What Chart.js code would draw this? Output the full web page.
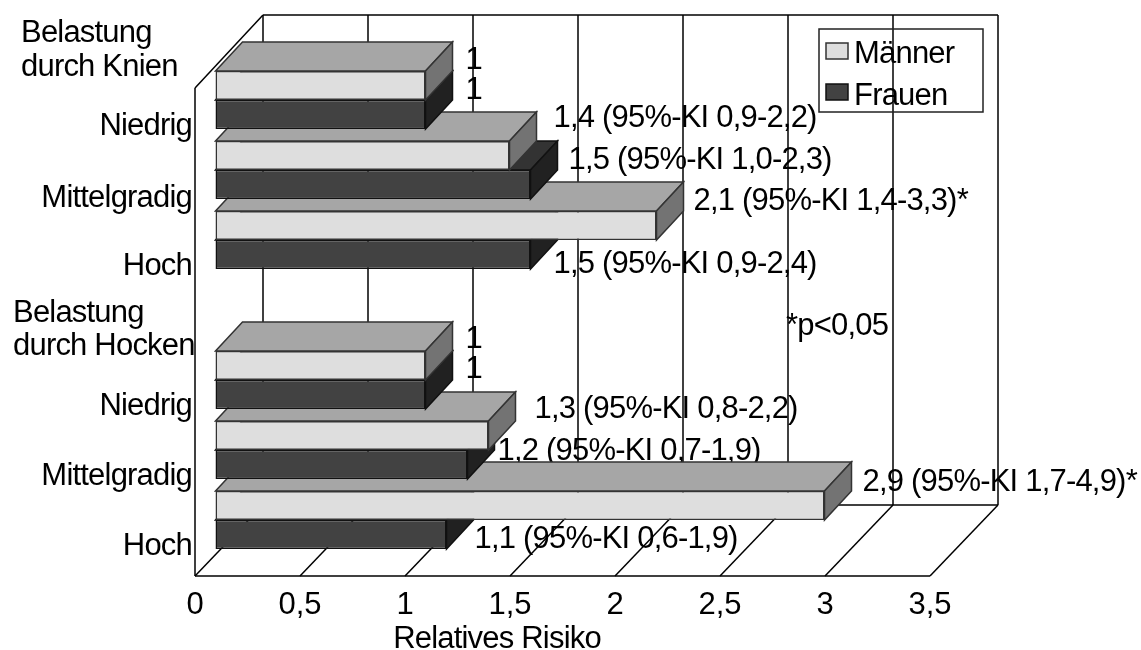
<!DOCTYPE html>
<html>
<head>
<meta charset="utf-8">
<script src="https://cdn.jsdelivr.net/npm/chart.js@4"></script>
<style>
  html, body { margin: 0; background: #fff; }
  canvas { display: block; }
</style>
</head>
<body>
<canvas id="risiko" width="1141" height="650"></canvas>
<script>
const categories = [['Belastung', 'durch Knien'], 'Niedrig', 'Mittelgradig', 'Hoch', ['Belastung', 'durch Hocken'], 'Niedrig', 'Mittelgradig', 'Hoch'];
const maennerValues = [null, 1, 1.4, 2.1, null, 1, 1.3, 2.9];
const frauenValues = [null, 1, 1.5, 1.5, null, 1, 1.2, 1.1];
const maennerLabels = [null, '1', '1,4 (95%-KI 0,9-2,2)', '2,1 (95%-KI 1,4-3,3)*', null, '1', '1,3 (95%-KI 0,8-2,2)', '2,9 (95%-KI 1,7-4,9)*'];
const frauenLabels = [null, '1', '1,5 (95%-KI 1,0-2,3)', '1,5 (95%-KI 0,9-2,4)', null, '1', '1,2 (95%-KI 0,7-1,9)', '1,1 (95%-KI 0,6-1,9)'];
const xTickLabels = ['0', '0,5', '1', '1,5', '2', '2,5', '3', '3,5'];

// label nudges in px, from the end of the bar
const maennerNudge = [null, [40, -16], [44, -28], [37, -15], null, [40, -17], [46, -17], [38, -14]];
const frauenNudge = [null, [40, -16], [38, -16], [23, 18], null, [40, -17], [30, -5], [28, 13]];
const yLabelShift = [0, 14, 16, 14, 0, 14, 14, 14];

const FONT = '31px "Liberation Sans"';
const BAR_DX = 27, BAR_DY = 29;     // bar depth
const WALL_DX = 68, WALL_DY = 71;   // box depth
const PLANE_DX = 20.5, PLANE_DY = -21; // bars sit a bit behind the front edge

const faces = [
  { top: '#a6a6a6', side: '#737373' },
  { top: '#333333', side: '#212121' }
];

function poly(ctx, pts, fill, stroke) {
  ctx.beginPath();
  pts.forEach((p, i) => i ? ctx.lineTo(p[0], p[1]) : ctx.moveTo(p[0], p[1]));
  ctx.closePath();
  if (fill) { ctx.fillStyle = fill; ctx.fill(); }
  ctx.strokeStyle = stroke;
  ctx.lineWidth = 1.5;
  ctx.stroke();
}

function line(ctx, x1, y1, x2, y2) {
  ctx.beginPath();
  ctx.moveTo(x1, y1);
  ctx.lineTo(x2, y2);
  ctx.stroke();
}

function text(ctx, str, x, y, align) {
  ctx.font = FONT;
  ctx.letterSpacing = '-0.8px'; // reference type is tall and tight
  ctx.fillStyle = '#000';
  ctx.textAlign = align || 'left';
  ctx.textBaseline = 'alphabetic';
  ctx.fillText(str, x, y);
  ctx.letterSpacing = '0px';
}

const box3d = {
  id: 'box3d',
  beforeDatasetsDraw(chart) {
    const ctx = chart.ctx, a = chart.chartArea, xs = chart.scales.x;
    ctx.save();

    // walls and floor
    ctx.strokeStyle = '#000';
    ctx.lineWidth = 1.5;
    const backBottom = a.bottom - WALL_DY, backTop = a.top - 1;
    line(ctx, a.left, a.top + 72, a.left, a.bottom);
    line(ctx, a.left, a.bottom, a.right, a.bottom);
    line(ctx, a.left, a.top + 72, a.left + WALL_DX, backTop);
    line(ctx, a.left + WALL_DX, backTop, a.right + WALL_DX, backTop);
    line(ctx, a.left + WALL_DX, backBottom, a.right + WALL_DX, backBottom);
    xs.ticks.forEach((t, i) => {
      const px = xs.getPixelForTick(i);
      line(ctx, px, a.bottom, px + WALL_DX, backBottom);
      line(ctx, px + WALL_DX, backBottom, px + WALL_DX, backTop);
    });

    // value labels go under the bars, the 1,2 one gets cut off by the bar below
    [[maennerValues, maennerLabels, maennerNudge, 0], [frauenValues, frauenLabels, frauenNudge, 1]].forEach(([vals, labs, nudge, ds]) => {
      const meta = chart.getDatasetMeta(ds);
      vals.forEach((v, i) => {
        if (v === null) return;
        const el = meta.data[i];
        text(ctx, labs[i], el.x + PLANE_DX + nudge[i][0], el.y + PLANE_DY + nudge[i][1]);
      });
    });

    // bars back to front: bottom row first, Frauen under Männer
    ctx.translate(PLANE_DX, PLANE_DY);
    for (let i = categories.length - 1; i >= 0; i--) {
      [1, 0].forEach(ds => {
        const meta = chart.getDatasetMeta(ds);
        if (chart.data.datasets[ds].data[i] === null) return;
        const el = meta.data[i];
        const top = el.y - el.height / 2, bottom = el.y + el.height / 2;
        const edge = chart.data.datasets[ds].borderColor;
        poly(ctx, [[el.base, top], [el.x, top], [el.x + BAR_DX, top - BAR_DY], [el.base + BAR_DX, top - BAR_DY]], faces[ds].top, edge);
        poly(ctx, [[el.x, top], [el.x + BAR_DX, top - BAR_DY], [el.x + BAR_DX, bottom - BAR_DY], [el.x, bottom]], faces[ds].side, edge);
        el.draw(ctx);
      });
    }
    ctx.restore();
    return false;
  },
  afterDraw(chart) {
    const ctx = chart.ctx, ys = chart.scales.y;
    ctx.save();

    // y labels, the two group headers are left aligned blocks
    categories.forEach((c, i) => {
      const py = ys.getPixelForValue(i);
      if (Array.isArray(c)) {
        const left = i === 0 ? 21 : 13;
        const first = i === 0 ? 42 : 322;
        const second = i === 0 ? 76 : 355;
        text(ctx, c[0], left, first);
        text(ctx, c[1], left, second);
      } else {
        text(ctx, c, 192, py + yLabelShift[i], 'right');
      }
    });

    text(ctx, 'Relatives Risiko', 497, 648, 'center');
    text(ctx, '*p<0,05', 786, 335);

    // legend
    ctx.strokeStyle = '#222';
    ctx.lineWidth = 1.5;
    ctx.strokeRect(819, 29, 164, 83);
    chart.data.datasets.forEach((d, i) => {
      const y = i === 0 ? 43 : 84;
      ctx.fillStyle = d.backgroundColor;
      ctx.strokeStyle = d.borderColor;
      ctx.fillRect(826, y, 22, 16);
      ctx.strokeRect(826, y, 22, 16);
      text(ctx, d.label, 854, i === 0 ? 63 : 105);
    });
    ctx.restore();
  }
};

new Chart(document.getElementById('risiko'), {
  type: 'bar',
  plugins: [box3d],
  data: {
    labels: categories,
    datasets: [
      { label: 'Männer', data: maennerValues, backgroundColor: '#dedede', borderColor: '#333333' },
      { label: 'Frauen', data: frauenValues, backgroundColor: '#424242', borderColor: '#111111' }
    ]
  },
  options: {
    indexAxis: 'y',
    responsive: false,
    animation: false,
    layout: { padding: { top: 16, right: 211, left: 0, bottom: 0 } },
    datasets: { bar: { barPercentage: 1, categoryPercentage: 0.83, borderWidth: 1.5, borderSkipped: false } },
    plugins: { legend: { display: false }, tooltip: { enabled: false } },
    scales: {
      x: {
        min: 0,
        max: 3.5,
        grid: { display: false },
        border: { display: false },
        afterFit: s => { s.height = 74; },
        ticks: {
          stepSize: 0.5,
          padding: 3,
          maxRotation: 0,
          autoSkip: false,
          color: '#000',
          font: { family: 'Liberation Sans', size: 31 },
          callback: (v, i) => xTickLabels[i]
        }
      },
      y: {
        grid: { display: false },
        border: { display: false },
        ticks: { display: false },
        afterFit: s => { s.width = 195; }
      }
    }
  }
});
</script>
</body>
</html>
